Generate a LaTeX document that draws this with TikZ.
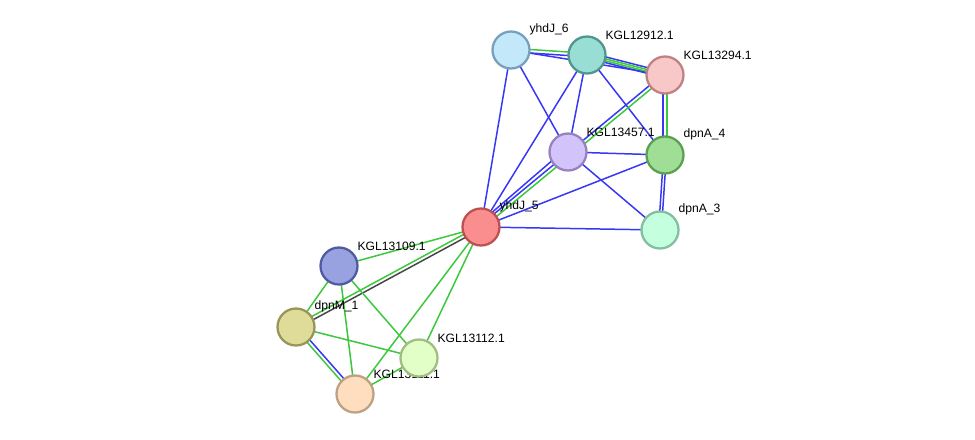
\documentclass[tikz,border=0pt]{standalone}
\usepackage{fontspec}
\setsansfont{Liberation Sans}
\usepackage{tikz}
\usetikzlibrary{calc, backgrounds}
\definecolor{eblue}{RGB}{55,55,245}
\definecolor{egreen}{RGB}{60,200,60}
\definecolor{edark}{RGB}{70,70,70}
\definecolor{fy6}{RGB}{194,232,250}  \definecolor{dy6}{RGB}{120,160,190}
\definecolor{fk12}{RGB}{152,222,212} \definecolor{dk12}{RGB}{80,150,140}
\definecolor{fk94}{RGB}{248,200,200} \definecolor{dk94}{RGB}{190,130,130}
\definecolor{fk57}{RGB}{210,196,250} \definecolor{dk57}{RGB}{150,130,190}
\definecolor{fa4}{RGB}{160,222,150}  \definecolor{da4}{RGB}{90,160,80}
\definecolor{fa3}{RGB}{196,255,222}  \definecolor{da3}{RGB}{130,190,160}
\definecolor{fy5}{RGB}{250,142,142}  \definecolor{dy5}{RGB}{190,80,80}
\definecolor{fk09}{RGB}{152,162,225} \definecolor{dk09}{RGB}{80,90,160}
\definecolor{fm1}{RGB}{222,220,152}  \definecolor{dm1}{RGB}{150,150,90}
\definecolor{fk12b}{RGB}{226,255,200} \definecolor{dk12b}{RGB}{160,190,130}
\definecolor{fk10}{RGB}{255,222,192} \definecolor{dk10}{RGB}{190,160,130}
\tikzset{
  prot/.style={circle, draw, line width=1.3pt, minimum size=0.74cm,
    inner sep=0pt, label distance=0.5pt},
  lbl/.style={font=\sffamily\fontsize{6.9}{8.5}\selectfont, inner sep=0.5pt,
    xshift=0.07cm},
  lnk/.style={line width=0.85pt}
}
% one line of an edge, shifted sideways by the optional length
\newcommand{\lnkline}[4][0pt]{\draw[lnk, #2] ($(#3)!#1!90:(#4)$) -- ($(#4)!#1!-90:(#3)$);}

\begin{document}
\begin{tikzpicture}[x=0.02cm, y=-0.02cm]
  \useasboundingbox (0,0) rectangle (975,440);

  % Proteins
  \node[prot, fill=fy6, draw=dy6, label={[lbl]45:yhdJ\_6}] (y6) at (511,50) {};
  \node[prot, fill=fk12, draw=dk12, label={[lbl]45:KGL12912.1}] (k12912) at (587,55) {};
  \node[prot, fill=fk94, draw=dk94, label={[lbl]45:KGL13294.1}] (k13294) at (665,75) {};
  \node[prot, fill=fk57, draw=dk57, label={[lbl]45:KGL13457.1}] (k13457) at (568,152) {};
  \node[prot, fill=fa4, draw=da4, label={[lbl]45:dpnA\_4}] (a4) at (665,155) {};
  \node[prot, fill=fa3, draw=da3, label={[lbl]45:dpnA\_3}] (a3) at (660,230) {};
  \node[prot, fill=fy5, draw=dy5, label={[lbl]45:yhdJ\_5}] (y5) at (481,227) {};
  \node[prot, fill=fk09, draw=dk09, label={[lbl]45:KGL13109.1}] (k13109) at (339,266) {};
  \node[prot, fill=fm1, draw=dm1, label={[lbl]45:dpnM\_1}] (m1) at (296,327) {};
  \node[prot, fill=fk10, draw=dk10, label={[lbl]45:KGL13111.1}] (k13111) at (355,394) {};
  \node[prot, fill=fk12b, draw=dk12b, label={[lbl]45:KGL13112.1}] (k13112) at (419,358) {};

  % Edges
  \begin{scope}[on background layer]
    \lnkline[1pt]{egreen}{y6}{k12912}
    \lnkline[-1pt]{eblue}{y6}{k12912}
    \lnkline{eblue}{y6}{k13294}
    \lnkline[1.6pt]{eblue}{k12912}{k13294}
    \lnkline[0.5pt]{egreen}{k12912}{k13294}
    \lnkline[-0.6pt]{egreen}{k12912}{k13294}
    \lnkline[-1.6pt]{eblue}{k12912}{k13294}
    \lnkline{eblue}{y6}{y5}
    \lnkline{eblue}{y6}{k13457}
    \lnkline{eblue}{k12912}{y5}
    \lnkline{eblue}{k12912}{k13457}
    \lnkline{eblue}{k12912}{a4}
    \lnkline[1pt]{egreen}{k13294}{y5}
    \lnkline[-1pt]{eblue}{k13294}{y5}
    \lnkline[-2.2pt]{eblue}{k13457}{y5}
    \lnkline[-1pt]{eblue}{k13294}{a4}
    \lnkline[1pt]{egreen}{k13294}{a4}
    \lnkline[-0.8pt]{eblue}{a4}{a3}
    \lnkline[0.8pt]{eblue}{a4}{a3}
    \lnkline{eblue}{k13457}{a4}
    \lnkline{eblue}{k13457}{a3}
    \lnkline{eblue}{a4}{y5}
    \lnkline{eblue}{y5}{a3}
    \lnkline{egreen}{y5}{k13109}
    \lnkline[1pt]{edark}{y5}{m1}
    \lnkline[-1pt]{egreen}{y5}{m1}
    \lnkline{egreen}{y5}{k13112}
    \lnkline{egreen}{y5}{k13111}
    \lnkline{egreen}{k13109}{m1}
    \lnkline{egreen}{k13109}{k13111}
    \lnkline{egreen}{k13109}{k13112}
    \lnkline{egreen}{m1}{k13112}
    \lnkline[1pt]{eblue}{m1}{k13111}
    \lnkline[-1pt]{egreen}{m1}{k13111}
    \lnkline{egreen}{k13111}{k13112}
  \end{scope}
\end{tikzpicture}
\end{document}
